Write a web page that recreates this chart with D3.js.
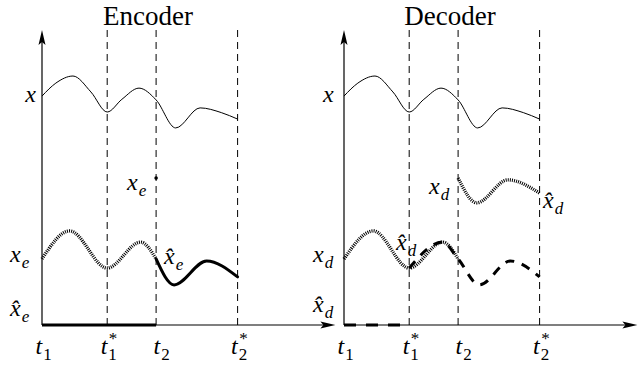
<!DOCTYPE html>
<html><head><meta charset="utf-8">
<script src="https://cdn.jsdelivr.net/npm/d3@7"></script>
<style>body{margin:0;background:#fff}svg{display:block}</style>
</head><body>
<script>
// time marks (t1, t1*, t2, t2*)
const tickTimes = [0, 0.8, 1.4, 2.4];
const tickLabels = [["t","1",""],["t","1","*"],["t","2",""],["t","2","*"]];
// signal x (same on both panels)
const xT = [0, 0.17, 0.38, 0.6, 0.8, 0.98, 1.19, 1.4, 1.64, 1.94, 2.2, 2.4];
const xV = [77.6, 82, 84.4, 79, 72.2, 76.5, 80.3, 76.3, 66.8, 73.6, 72, 69.8];
// encoder: x_e dotted (t1..t2)
const xeT = [0, 0.34, 0.8, 1.21, 1.4];
const xeV = [22.4, 31.9, 19.3, 28.1, 22.4];
// encoder: x̂_e solid thick (t2..t2*)
const xheT = [1.4, 1.62, 2.02, 2.4];
const xheV = [22.4, 13.6, 21.7, 16.3];
// encoder: x̂_e zero segment (t1..t2) and x_e dot at t2
const xheZeroT = [0, 1.4];
const xeDot = [1.4, 49.8];
// decoder: x_d dotted (t1..t2)
const xdT = [0, 0.36, 0.8, 1.21, 1.4];
const xdV = [22.4, 31.9, 19.3, 28.1, 22.4];
// decoder: x̂_d dashed thick (t1*..t2*)
const xhdT = [0.8, 1.21, 1.4, 1.66, 2.04, 2.4];
const xhdV = [19.3, 28.1, 22.4, 13.6, 21.7, 16.3];
// decoder: x_d dotted upper (t2..t2*)
const xdUpT = [1.4, 1.63, 2.01, 2.4];
const xdUpV = [49.8, 41.4, 49.2, 44.7];
// decoder: x̂_d zero segment (t1..t1*)
const xhdZeroT = [0, 0.8];

const W = 638, H = 365;
const svg = d3.select("body").append("svg").attr("width", W).attr("height", H);
const FONT = "'Liberation Serif', 'DejaVu Serif', serif";

const y = d3.scaleLinear().domain([0, 100]).range([325, 30]);

function mathLabel(g, x, yy, base, sub, sup, anchor) {
  const t = g.append("text").attr("x", x).attr("y", yy)
    .attr("font-family", FONT).attr("font-style", "italic").attr("fill", "#000")
    .attr("font-size", 24).attr("text-anchor", anchor || "start");
  t.append("tspan").text(base);
  if (sub) t.append("tspan").attr("font-size", 17).attr("font-style", sub.match(/[0-9]/) ? "normal" : "italic").attr("dy", 6).attr("dx", 1).text(sub);
  if (sup) t.append("tspan").attr("font-size", 17).attr("font-style", "normal").attr("dx", -8).attr("dy", -16).text(sup);
  return t;
}

function panel(x0, title, opts) {
  const x = d3.scaleLinear().domain([0, 3.6]).range([x0, x0 + 3.6 * 81.5]);
  const g = svg.append("g");
  const xr = x.range();
  // vertical dashed lines
  g.selectAll("line.v").data(tickTimes.slice(1)).join("line")
    .attr("x1", d => x(d)).attr("x2", d => x(d))
    .attr("y1", y(100)).attr("y2", y(0))
    .attr("stroke", "#000").attr("stroke-width", 1).attr("stroke-dasharray", "7,5");
  // axes
  g.append("line").attr("x1", xr[0]).attr("x2", xr[1] - 10).attr("y1", y(0)).attr("y2", y(0))
    .attr("stroke", "#000").attr("stroke-width", 1.2);
  g.append("line").attr("x1", xr[0]).attr("x2", xr[0]).attr("y1", y(0)).attr("y2", y(100) + 10)
    .attr("stroke", "#000").attr("stroke-width", 1.2);
  g.append("path").attr("d", `M${xr[1]},${y(0)} L${xr[1]-15},${y(0)-3.5} L${xr[1]-12},${y(0)} L${xr[1]-15},${y(0)+3.5}Z`).attr("fill", "#000");
  g.append("path").attr("d", `M${xr[0]},${y(100)} L${xr[0]-3.5},${y(100)+15} L${xr[0]},${y(100)+12} L${xr[0]+3.5},${y(100)+15}Z`).attr("fill", "#000");
  // bottom axis labels via d3 axis
  const ax = d3.axisBottom(x).tickValues(tickTimes).tickSize(0).tickFormat("");
  const axG = g.append("g").attr("transform", `translate(0,${y(0)})`).call(ax);
  axG.select(".domain").remove();
  axG.selectAll(".tick text").remove();
  axG.selectAll(".tick").each(function(d, i) {
    const lab = tickLabels[i];
    const off = i === 2 ? -3 : -7;
    mathLabel(d3.select(this), off, 29, lab[0], lab[1], lab[2]);
  });
  // title
  g.append("text").attr("x", x(1.3)).attr("y", 25).attr("text-anchor", "middle").attr("fill", "#000")
    .attr("font-family", FONT).attr("font-size", 27).text(title);
  // x curve
  const line = (T, V) => d3.line().x(d => x(T[d])).y(d => y(V[d])).curve(d3.curveMonotoneX)(d3.range(T.length));
  g.append("path").attr("d", line(xT, xV)).attr("fill", "none").attr("stroke", "#000").attr("stroke-width", 1);
  opts(g, x, line);
  return x;
}

const dotted = {w: 3.4, da: "1,1.1"};

panel(42, "Encoder", (g, x, line) => {
  g.append("path").attr("d", line(xeT, xeV)).attr("fill", "none").attr("stroke", "#000")
    .attr("stroke-width", dotted.w).attr("stroke-dasharray", dotted.da);
  g.append("path").attr("d", line(xheT, xheV)).attr("fill", "none").attr("stroke", "#000")
    .attr("stroke-width", 3).attr("stroke-linecap", "round");
  g.append("line").attr("x1", x(xheZeroT[0])).attr("x2", x(xheZeroT[1])).attr("y1", y(0)).attr("y2", y(0))
    .attr("stroke", "#000").attr("stroke-width", 3.2);
  g.append("circle").attr("cx", x(xeDot[0])).attr("cy", y(xeDot[1])).attr("r", 1.8).attr("fill", "#000");
  mathLabel(g, 36, 102, "x", "", "", "end");
  mathLabel(g, 10, 262, "x", "e", "");
  mathLabel(g, 10, 316, "x\u0302", "e", "");
  mathLabel(g, 127, 190, "x", "e", "");
  mathLabel(g, 164, 264, "x\u0302", "e", "");
});

panel(344, "Decoder", (g, x, line) => {
  g.append("path").attr("d", line(xdT, xdV)).attr("fill", "none").attr("stroke", "#000")
    .attr("stroke-width", dotted.w).attr("stroke-dasharray", dotted.da);
  g.append("path").attr("d", line(xhdT, xhdV)).attr("fill", "none").attr("stroke", "#000")
    .attr("stroke-width", 3).attr("stroke-dasharray", "9,8");
  g.append("path").attr("d", line(xdUpT, xdUpV)).attr("fill", "none").attr("stroke", "#000")
    .attr("stroke-width", dotted.w).attr("stroke-dasharray", dotted.da);
  g.append("line").attr("x1", x(xhdZeroT[0])).attr("x2", x(xhdZeroT[1])).attr("y1", y(0)).attr("y2", y(0))
    .attr("stroke", "#000").attr("stroke-width", 3.2).attr("stroke-dasharray", "12,10");
  mathLabel(g, 323, 102, "x", "", "");
  mathLabel(g, 313, 262, "x", "d", "");
  mathLabel(g, 313, 312, "x\u0302", "d", "");
  mathLabel(g, 429, 194, "x", "d", "");
  mathLabel(g, 543, 208, "x\u0302", "d", "");
  mathLabel(g, 396, 250, "x\u0302", "d", "");
});
</script>
</body></html>
